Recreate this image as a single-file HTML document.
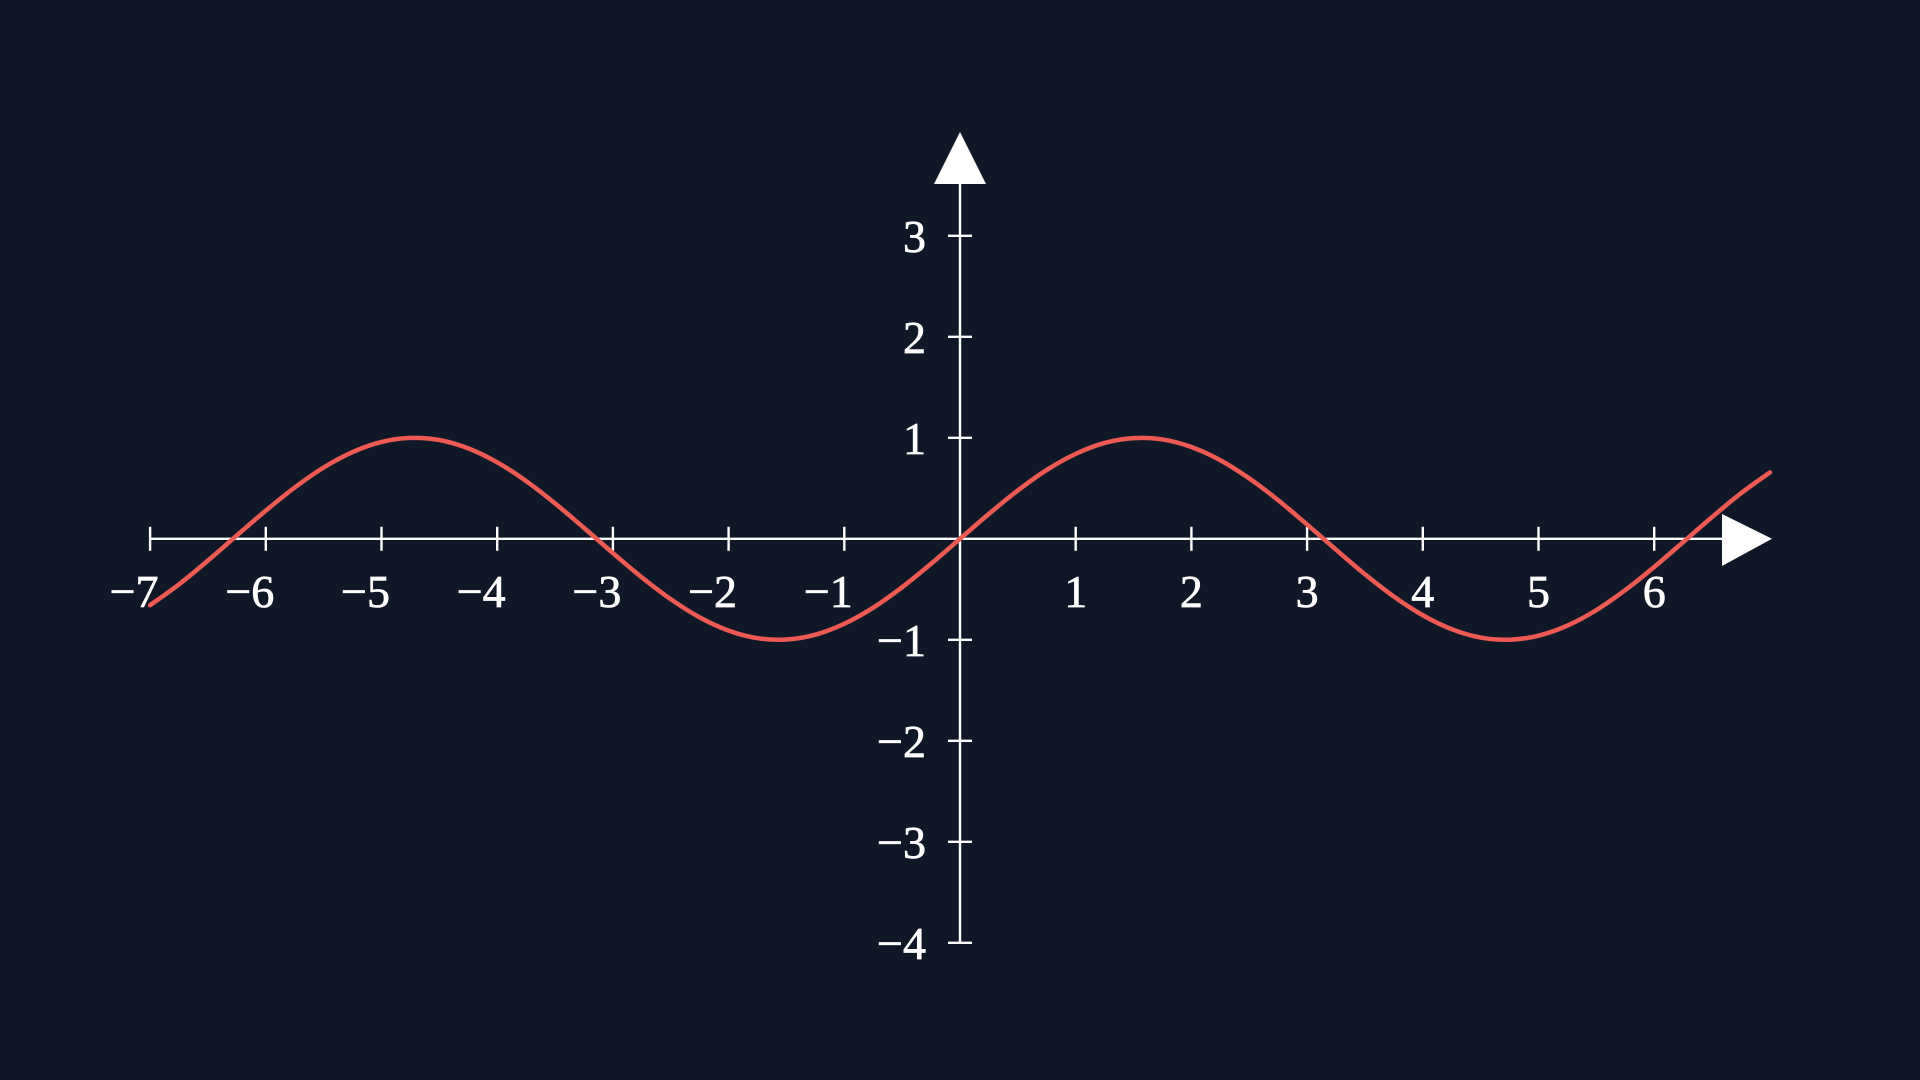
<!DOCTYPE html>
<html>
<head>
<meta charset="utf-8">
<style>
  html, body { margin:0; padding:0; background:#101828; }
  svg { display:block; }
  text { font-family: "Liberation Serif", "DejaVu Serif", serif; fill:#ffffff; font-size:46px; stroke:#ffffff; stroke-width:0.7px; }
</style>
</head>
<body>
<svg id="chart" width="1920" height="1080" viewBox="0 0 1920 1080" xmlns="http://www.w3.org/2000/svg">
  <rect width="1920" height="1080" fill="#101828"/>
  <g id="axes"></g>
  <g id="curve"></g>
</svg>
<script>
const xTicks = [-7,-6,-5,-4,-3,-2,-1,1,2,3,4,5,6];
const yTicks = [-4,-3,-2,-1,1,2,3];
const xLabels = ["−7","−6","−5","−4","−3","−2","−1","1","2","3","4","5","6"];
const yLabels = ["−4","−3","−2","−1","1","2","3"];
const xStart = -7;
const xStep = 0.25;
const yValues = [-0.657,-0.451,-0.215,0.033,0.279,0.508,0.706,0.859,0.959,0.999,0.978,0.895,0.757,0.572,0.351,0.108,-0.141,-0.382,-0.598,-0.778,-0.909,-0.984,-0.997,-0.949,-0.841,-0.682,-0.479,-0.247,0,
0.247,0.479,0.682,0.841,0.949,0.997,0.984,0.909,0.778,0.598,0.382,0.141,-0.108,-0.351,-0.572,-0.757,-0.895,-0.978,-0.999,-0.959,-0.859,-0.706,-0.508,-0.279,-0.033,0.215,0.451,0.657];

const X0 = 960, Y0 = 538.8, UX = 115.7, UY = 101;
function sx(v){ return X0 + v*UX; }
function sy(v){ return Y0 - v*UY; }
const NS = "http://www.w3.org/2000/svg";
function mk(tag, attrs, parent){
  const e = document.createElementNS(NS, tag);
  for (const k in attrs) e.setAttribute(k, attrs[k]);
  parent.appendChild(e);
  return e;
}
const axes = document.getElementById('axes');
const W = "#ffffff";

const xAxis = mk('line', {x1: sx(-7), y1: Y0, x2: 1725, y2: Y0, stroke: W, 'stroke-width': 2.4}, axes);


const xArrow = mk('polygon', {points: `1722,514 1772,${Y0} 1722,566`, fill: W}, axes);



const yAxis = mk('line', {x1: X0, y1: sy(-4), x2: X0, y2: 180, stroke: W, 'stroke-width': 2.4}, axes);


const yArrow = mk('polygon', {points: `934,184 ${X0},132 986,184`, fill: W}, axes);



xTicks.forEach((t, i) => {
  const tk = mk('line', {x1: sx(t), y1: Y0-12, x2: sx(t), y2: Y0+12, stroke: W, 'stroke-width': 2.4}, axes);
  
  
  const lb = mk('text', {x: sx(t) - (t < 0 ? 16 : 0), y: 607, 'text-anchor': 'middle'}, axes);
  lb.textContent = xLabels[i];
  
  
});
yTicks.forEach((t, i) => {
  const tk = mk('line', {x1: X0-12, y1: sy(t), x2: X0+12, y2: sy(t), stroke: W, 'stroke-width': 2.4}, axes);
  
  
  const lb = mk('text', {x: 926, y: sy(t) + 16, 'text-anchor': 'end'}, axes);
  lb.textContent = yLabels[i];
  
  
});

// smooth curve via Catmull-Rom
const pts = yValues.map((v, i) => [sx(xStart + i*xStep), sy(v)]);
let d = `M${pts[0][0]},${pts[0][1]}`;
for (let i = 0; i < pts.length-1; i++){
  const p0 = pts[Math.max(0,i-1)], p1 = pts[i], p2 = pts[i+1], p3 = pts[Math.min(pts.length-1,i+2)];
  const c1x = p1[0] + (p2[0]-p0[0])/6, c1y = p1[1] + (p2[1]-p0[1])/6;
  const c2x = p2[0] - (p3[0]-p1[0])/6, c2y = p2[1] - (p3[1]-p1[1])/6;
  d += ` C${c1x},${c1y} ${c2x},${c2y} ${p2[0]},${p2[1]}`;
}
const curve = mk('path', {d: d, fill: 'none', stroke: '#ec5a52', 'stroke-width': 4.5, 'stroke-linecap': 'round'}, document.getElementById('curve'));


</script>
</body>
</html>
